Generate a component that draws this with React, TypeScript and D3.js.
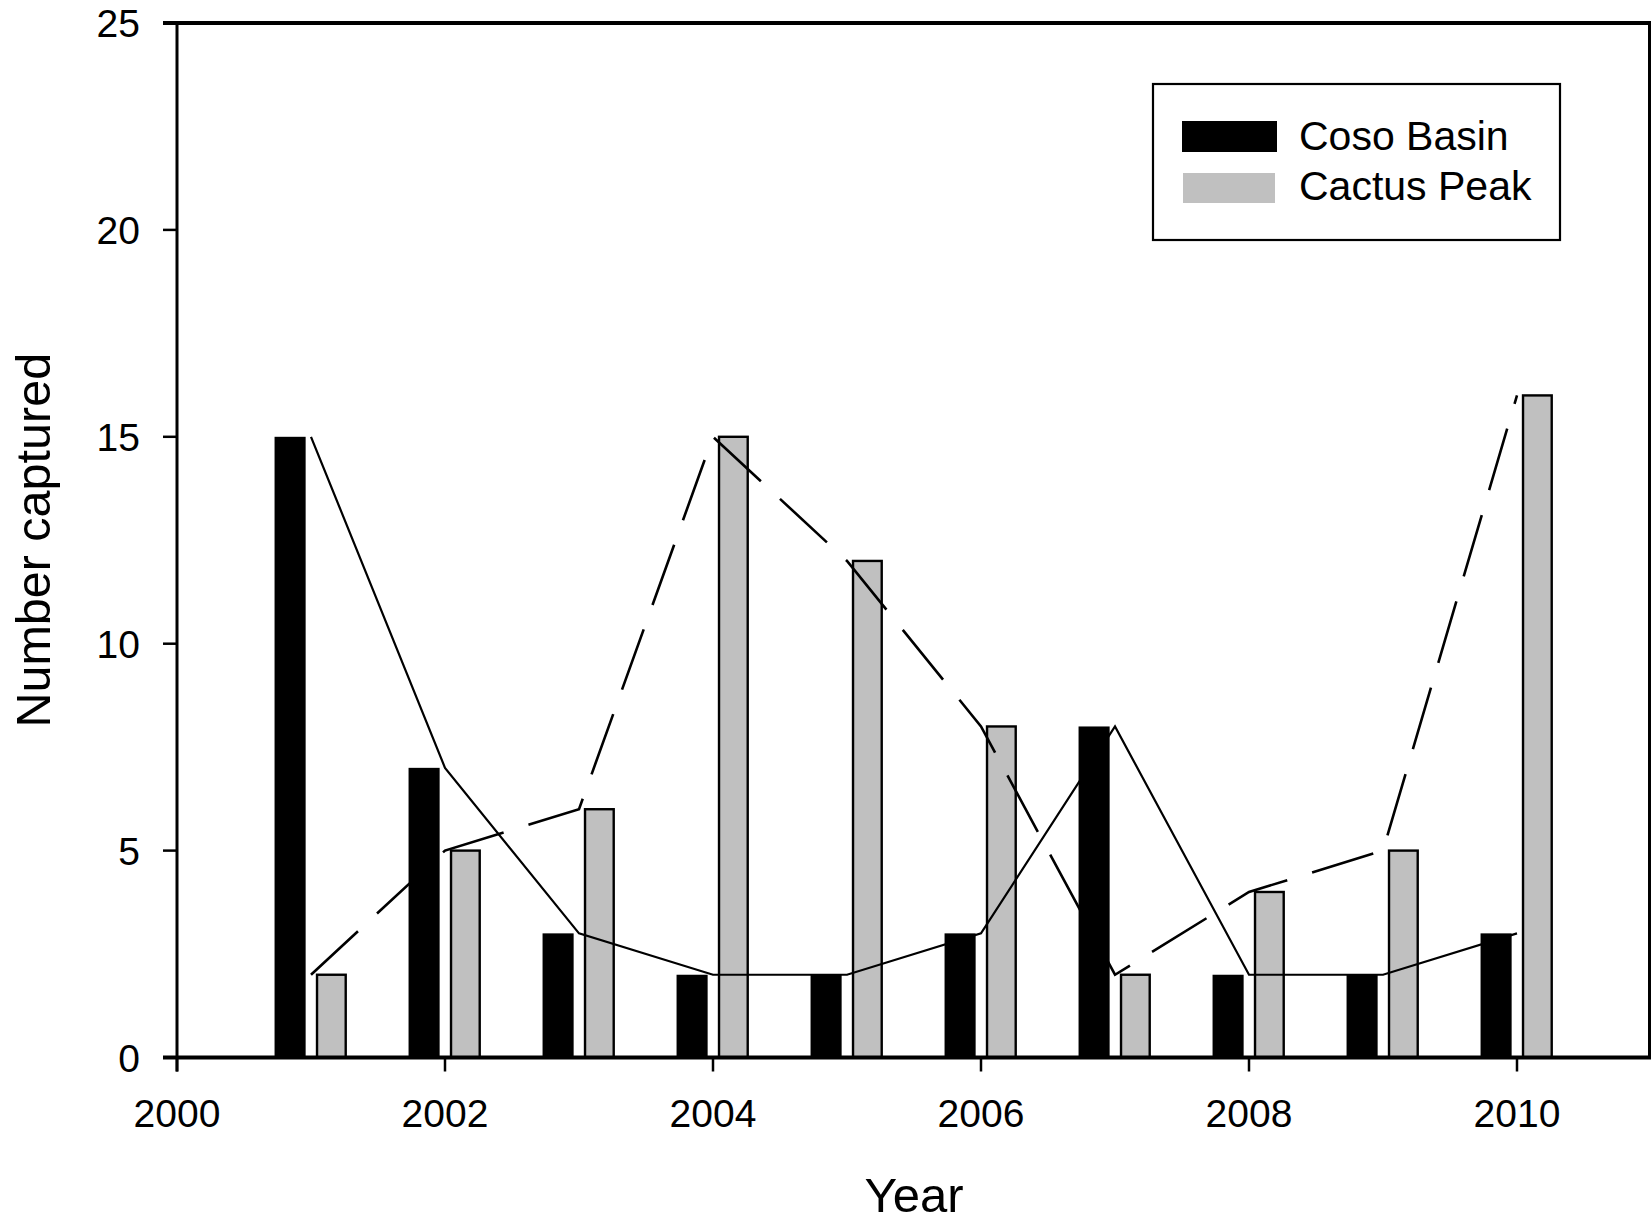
import React from 'react'
import * as d3 from 'd3'

// values
const years = [2001, 2002, 2003, 2004, 2005, 2006, 2007, 2008, 2009, 2010]
const cosoBasin = [15, 7, 3, 2, 2, 3, 8, 2, 2, 3]
const cactusPeak = [2, 5, 6, 15, 12, 8, 2, 4, 5, 16]
const xTicks = [2000, 2002, 2004, 2006, 2008, 2010]
const yTicks = [0, 5, 10, 15, 20, 25]
const seriesNames = ['Coso Basin', 'Cactus Peak']

const W = 1652
const H = 1223
const font = 'Arial, "Liberation Sans", sans-serif'
const gray = '#c0c0c0'

export default function App() {
  const x = d3.scaleLinear().domain([2000, 2011]).range([177, 1651])
  const y = d3.scaleLinear().domain([0, 25]).range([1057.5, 23])

  // bars sit either side of the year
  const blackOff = -0.272
  const grayOff = 0.036
  const barW = 0.232

  const line = d3.line<[number, number]>()
    .x(d => x(d[0]))
    .y(d => y(d[1]))

  const cosoPts = years.map((yr, i) => [yr, cosoBasin[i]] as [number, number])
  const cactusPts = years.map((yr, i) => [yr, cactusPeak[i]] as [number, number])

  return (
    <svg width={W} height={H} style={{ position: 'absolute', left: 0, top: 0, background: '#fff' }}
      fontFamily={font}>
      {/* bars */}
      {years.map((yr, i) => (
        <rect key={'b' + yr}
          x={x(yr + blackOff)} y={y(cosoBasin[i])}
          width={x(yr + blackOff + barW) - x(yr + blackOff)}
          height={y(0) - y(cosoBasin[i])}
          fill="#000" />
      ))}
      {years.map((yr, i) => (
        <rect key={'g' + yr}
          x={x(yr + grayOff) + 1.2} y={y(cactusPeak[i])}
          width={x(yr + grayOff + barW) - x(yr + grayOff) - 2.4}
          height={y(0) - y(cactusPeak[i])}
          fill={gray} stroke="#000" strokeWidth={2.4} />
      ))}

      {/* connecting lines */}
      <path d={line(cosoPts) || ''} fill="none" stroke="#000" strokeWidth={2.2} />
      <path d={line(cactusPts) || ''} fill="none" stroke="#000" strokeWidth={2.6}
        strokeDasharray="64,26" />

      {/* frame */}
      <line x1={x(2000)} x2={x(2000)} y1={y(25) - 2} y2={y(0) + 14} stroke="#000" strokeWidth={3} />
      <line x1={x(2011) - 1.5} x2={x(2011) - 1.5} y1={y(25)} y2={y(0)} stroke="#000" strokeWidth={3} />
      <line x1={x(2000) - 14} x2={x(2011)} y1={y(25)} y2={y(25)} stroke="#000" strokeWidth={4} />
      <line x1={x(2000) - 14} x2={x(2011)} y1={y(0)} y2={y(0)} stroke="#000" strokeWidth={4} />

      {/* y axis */}
      {yTicks.map(t => (
        <g key={'y' + t}>
          <line x1={x(2000) - 14} x2={x(2000)} y1={y(t)} y2={y(t)} stroke="#000" strokeWidth={2.5} />
          <text x={140} y={y(t)} dy="0.36em" textAnchor="end" fontSize={39}>{t}</text>
        </g>
      ))}

      {/* x axis */}
      {xTicks.map(t => (
        <g key={'x' + t}>
          <line x1={x(t)} x2={x(t)} y1={y(0)} y2={y(0) + 14} stroke="#000" strokeWidth={2.5} />
          <text x={x(t)} y={1127} textAnchor="middle" fontSize={39}>{t}</text>
        </g>
      ))}

      {/* titles */}
      <text x={914} y={1212} textAnchor="middle" fontSize={49}>Year</text>
      <text transform={`translate(50,${(y(0) + y(25)) / 2}) rotate(-90)`} textAnchor="middle" fontSize={48.5}>
        Number captured
      </text>

      {/* legend */}
      <rect x={1153} y={84} width={407} height={156} fill="#fff" stroke="#000" strokeWidth={2.2} />
      <rect x={1182} y={121} width={95} height={31} fill="#000" />
      <rect x={1183} y={173} width={92} height={30} fill={gray} />
      <text x={1299} y={150} fontSize={41}>{seriesNames[0]}</text>
      <text x={1299} y={200} fontSize={41}>{seriesNames[1]}</text>
    </svg>
  )
}
